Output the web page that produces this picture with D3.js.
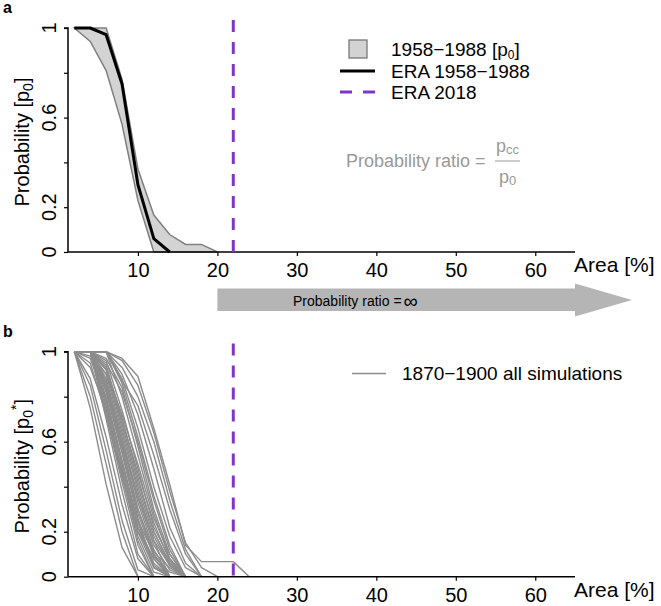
<!DOCTYPE html>
<html><head><meta charset="utf-8">
<script src="https://cdn.jsdelivr.net/npm/d3@7"></script>
<style>body{margin:0;background:#fff}svg{display:block;font-family:"Liberation Sans",Arial,sans-serif}</style>
</head><body><svg id="c" width="661" height="606"></svg>
<script>
// ---- data ----
const xGrid = [2,4,6,8,10,12,14,16,18,20,22,24];
const xTicks = [10,20,30,40,50,60];
const yTicks = [0,0.2,0.4,0.6,0.8,1];
const yLabels = {0:"0",0.2:"0.2",0.6:"0.6",1:"1"};
const era2018 = 22;
const eraLine = [1,1,0.97,0.75,0.3,0.06,0];
const bandUpper = [1,1,1,0.77,0.37,0.165,0.078,0.034,0.034,0];
const bandLower = [1,0.94,0.81,0.57,0.23,0];
const simCurves = [
 [1,0.75,0.41,0.13,0],
 [1,0.8,0.5,0.2,0],
 [1,0.85,0.56,0.25,0.03,0],
 [1,0.88,0.62,0.32,0.08,0],
 [1,1,0.7,0.38,0.1,0],
 [1,1,0.72,0.42,0.14,0],
 [1,1,0.74,0.45,0.16,0],
 [1,1,0.76,0.47,0.18,0.02,0],
 [1,0.95,0.72,0.44,0.2,0.04,0],
 [1,0.97,0.78,0.5,0.22,0.05,0],
 [1,1,0.8,0.52,0.24,0.06,0],
 [1,1,0.82,0.55,0.26,0.04,0],
 [1,1,0.79,0.5,0.2,0.08,0],
 [1,1,0.84,0.58,0.3,0.1,0],
 [1,1,0.86,0.6,0.33,0.12,0],
 [1,1,0.83,0.56,0.28,0.09,0.02,0],
 [1,1,0.88,0.62,0.35,0.14,0.03,0],
 [1,1,0.9,0.64,0.38,0.16,0],
 [1,1,0.77,0.46,0.22,0.08,0],
 [1,0.93,0.74,0.48,0.25,0.1,0],
 [1,1,0.92,0.66,0.4,0.18,0.05,0],
 [1,1,0.87,0.58,0.3,0.11,0.04,0],
 [1,1,0.94,0.7,0.44,0.2,0.06,0],
 [1,1,0.96,0.74,0.48,0.22,0.08,0],
 [1,1,0.85,0.6,0.36,0.16,0.05,0],
 [1,1,0.92,0.72,0.5,0.26,0.1,0],
 [1,1,1,0.86,0.62,0.36,0.14,0],
 [1,1,1,0.88,0.66,0.4,0.18,0.04,0],
 [1,1,1,0.9,0.72,0.48,0.22,0.06,0],
 [1,1,1,0.87,0.76,0.54,0.3,0.1,0],
 [1,1,1,0.93,0.8,0.6,0.34,0.12,0],
 [1,1,1,0.96,0.85,0.64,0.38,0.15,0.04,0],
 [1,1,1,0.97,0.89,0.66,0.41,0.14,0.067,0.067,0.067,0],
 [1,1,0.95,0.82,0.6,0.34,0.12,0],
 [1,1,0.97,0.84,0.58,0.3,0.1,0],
 [1,1,1,0.8,0.54,0.28,0.08,0],
 [1,0.98,0.9,0.7,0.46,0.24,0.07,0],
 [1,1,0.93,0.68,0.42,0.2,0.06,0]
];

// ---- drawing ----
const svg = d3.select("#c");
const purple = "#8035c8";
const x = d3.scaleLinear().domain([1.2,65]).range([68,575]);
const panels = [
  {label:"a", top:28, bottom:252, sup:false},
  {label:"b", top:351.7, bottom:576.7, sup:true}
];
const toPts = arr => arr.map((v,i)=>[xGrid[i],v]);

panels.forEach((p,pi)=>{
  const y = d3.scaleLinear().domain([0,1]).range([p.bottom,p.top]);
  const g = svg.append("g");
  const line = d3.line().x(d=>x(d[0])).y(d=>y(d[1]));

  if(pi===0){
    const poly = toPts(bandUpper).concat(toPts(bandLower).reverse());
    g.append("path").attr("d", line(poly)+"Z").attr("fill","#d3d3d3").attr("stroke","#808080").attr("stroke-width",1.5);
    g.append("path").attr("d", line(toPts(eraLine))).attr("fill","none").attr("stroke","#000").attr("stroke-width",3).attr("stroke-linejoin","round");
  } else {
    g.selectAll("path.sim").data(simCurves).join("path").attr("class","sim")
      .attr("d", d=>line(toPts(d))).attr("fill","none").attr("stroke","#8c8c8c").attr("stroke-width",1.4).attr("stroke-linejoin","round");
  }

  // axes
  const ya = d3.axisLeft(y).tickValues(yTicks).tickSize(4).tickFormat("");
  const yg = g.append("g").attr("transform",`translate(68,0)`).call(ya);
  yg.select(".domain").attr("d",`M-4,${p.top}H0V${p.bottom}`).attr("stroke","#000").attr("stroke-width",1.5);
  yg.selectAll(".tick line").attr("stroke","#000").attr("stroke-width",1.2);
  yTicks.filter(t=>yLabels[t]!==undefined).forEach(t=>{
    g.append("text").attr("transform",`translate(56,${y(t)}) rotate(-90)`).attr("text-anchor","middle")
      .attr("font-size",20).attr("fill","#000").text(yLabels[t]);
  });
  const xa = d3.axisBottom(x).tickValues(xTicks).tickSize(4).tickFormat(d3.format("d"));
  const xg = g.append("g").attr("transform",`translate(0,${p.bottom})`).call(xa);
  xg.select(".domain").attr("d",`M68,0H575`).attr("stroke","#000").attr("stroke-width",1.5);
  xg.selectAll(".tick line").attr("stroke","#000").attr("stroke-width",1.2);
  xg.selectAll(".tick text").attr("font-size",20).attr("fill","#000").attr("font-family","Liberation Sans, Arial, sans-serif").attr("dy","0.9em");
  g.append("text").attr("x",574).attr("y",p.bottom+20).attr("font-size",21).attr("fill","#000").text("Area [%]");

  // purple dashed line
  g.append("line").attr("x1",x(era2018)).attr("x2",x(era2018)).attr("y1",y(1.036)).attr("y2",p.bottom)
    .attr("stroke",purple).attr("stroke-width",3).attr("stroke-dasharray","12,10");

  // panel label
  svg.append("text").attr("x",3).attr("y",p.top-15).attr("font-size",16).attr("font-weight","bold").text(p.label);

  // y title
  const yc = (p.top+p.bottom)/2 + 2;
  const t = g.append("text").attr("transform",`translate(29,${yc}) rotate(-90)`).attr("text-anchor","middle").attr("font-size",20).attr("fill","#000");
  t.append("tspan").text("Probability [p");
  t.append("tspan").attr("font-size",14).attr("dy",4).text("0");
  if(p.sup){
    t.append("tspan").attr("font-size",14).attr("dy",-12).text("*");
    t.append("tspan").attr("dy",8).text("]");
  } else {
    t.append("tspan").attr("dy",-4).text("]");
  }
});

// legend a
const la = svg.append("g");
la.append("rect").attr("x",349).attr("y",40).attr("width",18).attr("height",18).attr("fill","#d3d3d3").attr("stroke","#777").attr("stroke-width",1.3);
const l1 = la.append("text").attr("x",391).attr("y",56).attr("font-size",19);
l1.append("tspan").text("1958\u22121988 [p");
l1.append("tspan").attr("font-size",12).attr("dy",3).text("0");
l1.append("tspan").attr("dy",-3).text("]");
la.append("line").attr("x1",340).attr("x2",375).attr("y1",71).attr("y2",71).attr("stroke","#000").attr("stroke-width",3);
la.append("text").attr("x",391).attr("y",78).attr("font-size",19).text("ERA 1958\u22121988");
la.append("line").attr("x1",340).attr("x2",375).attr("y1",92).attr("y2",92).attr("stroke",purple).attr("stroke-width",3).attr("stroke-dasharray","12,11");
la.append("text").attr("x",391).attr("y",99).attr("font-size",19).text("ERA 2018");

// probability ratio formula
const pr = svg.append("g").attr("fill","#999");
pr.append("text").attr("x",346).attr("y",167).attr("font-size",18).text("Probability ratio =");
const num = pr.append("text").attr("x",496).attr("y",152).attr("font-size",18);
num.append("tspan").text("p");
num.append("tspan").attr("font-size",13).attr("dy",2).text("cc");
pr.append("line").attr("x1",495).attr("x2",520).attr("y1",161).attr("y2",161).attr("stroke","#999").attr("stroke-width",1);
const den = pr.append("text").attr("x",499).attr("y",183).attr("font-size",18);
den.append("tspan").text("p");
den.append("tspan").attr("font-size",13).attr("dy",2).text("0");

// arrow
const ax0 = x(20), ax1 = 575, tip = 632;
svg.append("path").attr("d",`M${ax0},288.5H${ax1}V283.5L${tip},300L${ax1},316.5V311H${ax0}Z`).attr("fill","#b5b5b5");
const at = svg.append("text").attr("x",293).attr("y",306).attr("font-size",14).attr("fill","#000");
at.append("tspan").text("Probability ratio =");
at.append("tspan").attr("font-size",20).attr("dx",2).attr("dy",2).text("\u221E");

// legend b
svg.append("line").attr("x1",352).attr("x2",386).attr("y1",373.5).attr("y2",373.5).attr("stroke","#8c8c8c").attr("stroke-width",1.4);
svg.append("text").attr("x",402).attr("y",380).attr("font-size",19).text("1870\u22121900 all simulations");
</script></body></html>
